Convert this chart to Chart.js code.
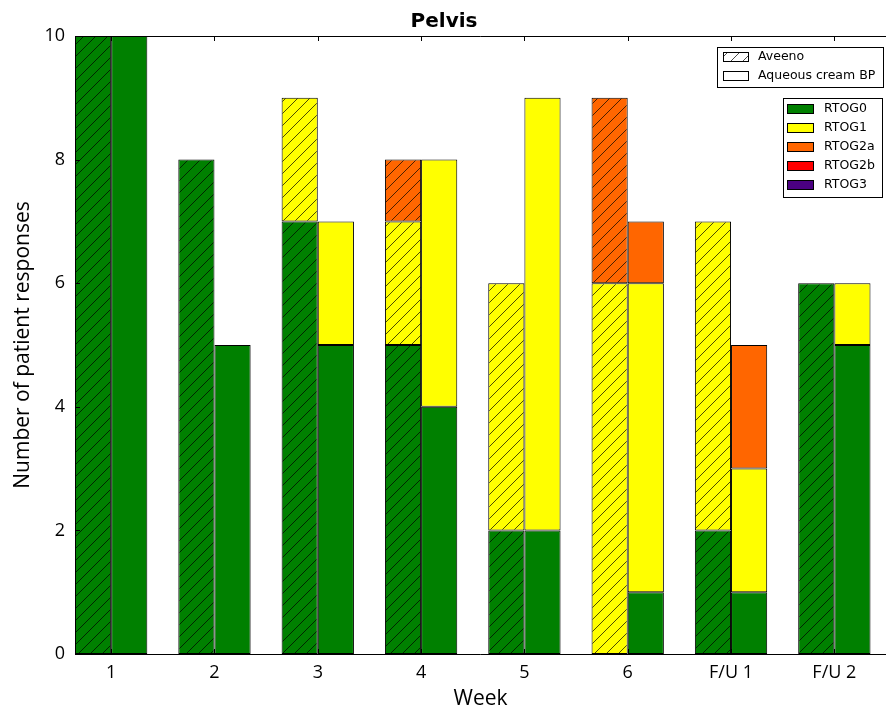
<!DOCTYPE html>
<html>
<head>
<meta charset="utf-8">
<script src="https://cdn.jsdelivr.net/npm/chart.js@4"></script>
<style>
  html, body { margin: 0; padding: 0; background: #fff; overflow: hidden; }
  canvas { display: block; }
</style>
</head>
<body>
<canvas id="myChart" width="886" height="712"></canvas>
<script>
// weeks on the x axis
const weeks = ['1', '2', '3', '4', '5', '6', 'F/U 1', 'F/U 2'];
const grades = ['RTOG0', 'RTOG1', 'RTOG2a', 'RTOG2b', 'RTOG3'];
const gradeColors = ['#008000', '#ffff00', '#ff6600', '#ff0000', '#4b0082'];

// Aveeno (hatched bars)
const aveenoRtog0  = [10, 8, 7, 5, 2, 0, 2, 6];
const aveenoRtog1  = [0, 0, 2, 2, 4, 6, 5, 0];
const aveenoRtog2a = [0, 0, 0, 1, 0, 3, 0, 0];
const aveenoRtog2b = [0, 0, 0, 0, 0, 0, 0, 0];
const aveenoRtog3  = [0, 0, 0, 0, 0, 0, 0, 0];

// Aqueous cream BP (plain bars)
const aqueousRtog0  = [10, 5, 5, 4, 2, 1, 1, 5];
const aqueousRtog1  = [0, 0, 2, 4, 7, 5, 2, 1];
const aqueousRtog2a = [0, 0, 0, 0, 0, 1, 2, 0];
const aqueousRtog2b = [0, 0, 0, 0, 0, 0, 0, 0];
const aqueousRtog3  = [0, 0, 0, 0, 0, 0, 0, 0];

const yTicks = [0, 2, 4, 6, 8, 10];

const aveeno = [aveenoRtog0, aveenoRtog1, aveenoRtog2a, aveenoRtog2b, aveenoRtog3];
const aqueous = [aqueousRtog0, aqueousRtog1, aqueousRtog2a, aqueousRtog2b, aqueousRtog3];

// diagonal "/" hatch on a colour
function hatch(color) {
    const s = 12;
    const c = document.createElement('canvas');
    c.width = s; c.height = s;
    const g = c.getContext('2d');
    g.fillStyle = color;
    g.fillRect(0, 0, s, s);
    g.strokeStyle = 'rgba(0,0,0,0.7)';
    g.lineWidth = 1;
    g.beginPath();
    g.moveTo(-1, s + 1); g.lineTo(s + 1, -1);
    g.moveTo(-s / 2 - 1, s / 2 + 1); g.lineTo(s / 2 + 1, -s / 2 - 1);
    g.moveTo(s / 2 - 1, s * 1.5 + 1); g.lineTo(s * 1.5 + 1, s / 2 - 1);
    g.stroke();
    return g.createPattern(c, 'repeat');
}

const toPoints = arr => arr.map((v, i) => ({ x: i, y: v || null }));

const datasets = [];
grades.forEach((g, k) => {
    datasets.push({
        label: g + ' Aveeno',
        data: toPoints(aveeno[k]),
        stack: 'aveeno',
        backgroundColor: hatch(gradeColors[k]),
    });
});
grades.forEach((g, k) => {
    datasets.push({
        label: g + ' Aqueous',
        data: toPoints(aqueous[k]),
        stack: 'aqueous',
        backgroundColor: gradeColors[k],
    });
});

// frame, inward tick marks and the two legend boxes
const framePlugin = {
    id: 'frame',
    afterDatasetsDraw(chart) {
        const { ctx, chartArea: a, scales: { x, y } } = chart;
        ctx.save();
        ctx.strokeStyle = '#000';
        ctx.lineWidth = 1;
        ctx.beginPath();
        // top, left and bottom edges (the right edge is outside the picture)
        ctx.moveTo(chart.width, a.top + 0.5);
        ctx.lineTo(a.left + 0.5, a.top + 0.5);
        ctx.lineTo(a.left + 0.5, a.bottom + 0.5);
        ctx.lineTo(chart.width, a.bottom + 0.5);
        weeks.forEach((w, i) => {
            const px = Math.round(x.getPixelForValue(i)) + 0.5;
            ctx.moveTo(px, a.bottom); ctx.lineTo(px, a.bottom - 5);
            ctx.moveTo(px, a.top); ctx.lineTo(px, a.top + 5);
        });
        yTicks.forEach(t => {
            const py = Math.round(y.getPixelForValue(t)) + 0.5;
            ctx.moveTo(a.left, py); ctx.lineTo(a.left + 5, py);
        });
        ctx.stroke();

        ctx.font = '12.5px "DejaVu Sans"';
        ctx.textBaseline = 'middle';

        // product legend
        ctx.fillStyle = '#fff';
        ctx.fillRect(717.5, 47.5, 166, 40);
        ctx.strokeRect(717.5, 47.5, 166, 40);
        const products = [['Aveeno', hatch('#ffffff')], ['Aqueous cream BP', '#ffffff']];
        products.forEach(([name, fill], i) => {
            const cy = 57 + i * 19;
            ctx.fillStyle = fill;
            ctx.fillRect(723.5, cy - 4.5, 25, 9);
            ctx.strokeRect(723.5, cy - 4.5, 25, 9);
            ctx.fillStyle = '#000';
            ctx.fillText(name, 758, cy);
        });

        // grade legend
        ctx.fillStyle = '#fff';
        ctx.fillRect(783.5, 98.5, 99, 99);
        ctx.strokeRect(783.5, 98.5, 99, 99);
        grades.forEach((g, i) => {
            const cy = 109 + i * 19;
            ctx.fillStyle = gradeColors[i];
            ctx.fillRect(787.5, cy - 4.5, 26, 9);
            ctx.strokeRect(787.5, cy - 4.5, 26, 9);
            ctx.fillStyle = '#000';
            ctx.fillText(g, 824, cy);
        });
        ctx.restore();
    }
};

const ctx = document.getElementById('myChart').getContext('2d');
const myChart = new Chart(ctx, {
    type: 'bar',
    data: { datasets: datasets },
    plugins: [framePlugin],
    options: {
        responsive: false,
        animation: false,
        layout: { padding: { left: 0, top: 0, bottom: 0, right: -2 } },
        datasets: {
            bar: {
                categoryPercentage: 0.7,
                barPercentage: 1.0,
                borderColor: '#000',
                borderWidth: 1,
                borderSkipped: false,
            },
        },
        plugins: {
            legend: { display: false },
            tooltip: { enabled: false },
            title: {
                display: true,
                text: 'Pelvis',
                color: '#000',
                font: { family: 'DejaVu Sans', size: 20, weight: 'bold', lineHeight: 1.2 },
                padding: { top: 10, bottom: 2 },
            },
        },
        scales: {
            x: {
                type: 'linear',
                min: -0.35,
                max: 7.5,
                offset: false,
                grid: { display: false, drawTicks: false },
                border: { display: false },
                afterBuildTicks: axis => { axis.ticks = weeks.map((w, i) => ({ value: i })); },
                afterFit: scale => { scale.height = 58; },
                ticks: {
                    callback: v => weeks[v],
                    color: '#000',
                    padding: 8,
                    maxRotation: 0,
                    autoSkip: false,
                    font: { family: 'Open Sans', size: 18 },
                },
                title: {
                    display: true,
                    text: 'Week',
                    color: '#000',
                    padding: { top: -2, bottom: 0 },
                    font: { family: 'Open Sans', size: 21 },
                },
            },
            y: {
                stacked: true,
                min: 0,
                max: 10,
                grid: { display: false, drawTicks: false },
                border: { display: false },
                afterFit: scale => { scale.width = 75; },
                ticks: {
                    stepSize: 2,
                    color: '#000',
                    padding: 10,
                    font: { family: 'Open Sans', size: 18 },
                },
                title: {
                    display: true,
                    text: 'Number of patient responses',
                    color: '#000',
                    padding: { top: 10, bottom: 0 },
                    font: { family: 'Open Sans', size: 21 },
                },
            },
        },
    },
});
</script>
</body>
</html>
